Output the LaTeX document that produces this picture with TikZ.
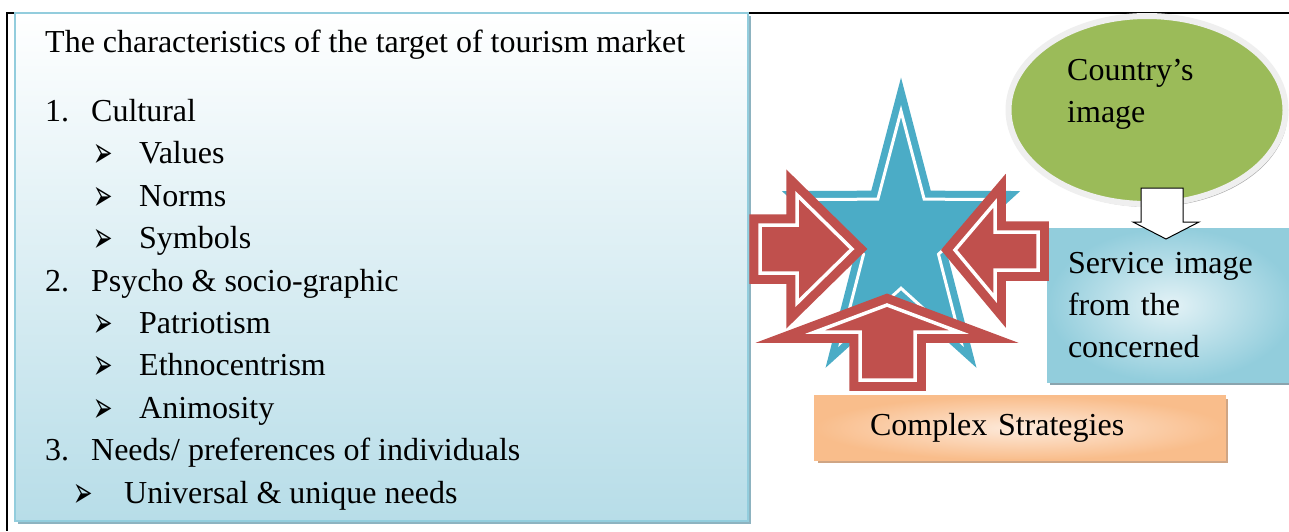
\documentclass[tikz,border=0pt]{standalone}
\usepackage{fontspec}
\setmainfont{Liberation Serif}
\newfontfamily\dingfont{DejaVu Sans}
\usetikzlibrary{calc, shapes.geometric, shadows}

\definecolor{panelblue}{HTML}{B7DDE8}
\definecolor{paneledge}{HTML}{93CDDD}
\definecolor{panelshadow}{HTML}{8DB3C0}
\definecolor{starblue}{HTML}{4BACC6}
\definecolor{arrowred}{HTML}{C0504D}
\definecolor{imggreen}{HTML}{9BBB59}
\definecolor{imgrim}{HTML}{EFEFEF}
\definecolor{imgshadow}{HTML}{A6A6A6}
\definecolor{svcblue}{HTML}{92CDDC}
\definecolor{svclight}{HTML}{E3F2F6}
\definecolor{svcshadow}{HTML}{8AA4AE}
\definecolor{stratorange}{HTML}{F9BD8B}
\definecolor{stratlight}{HTML}{FDEADB}
\definecolor{stratshadow}{HTML}{CFA584}

\newcommand{\arrowbul}{\raisebox{-4pt}{\scalebox{0.75}[1.4]{\dingfont\fontsize{31}{31}\selectfont ➢}}}
\newcommand{\listnum}[1]{\makebox[46pt][l]{#1}}
\newcommand{\listsub}{\hspace*{48pt}\makebox[46pt][l]{\arrowbul}}

\begin{document}
\begin{tikzpicture}[x=1pt, y=-1pt,
  every node/.style={inner sep=0pt, font=\fontsize{32}{42.4}\selectfont},
  panelbox/.style={draw=paneledge, line width=1.5pt, top color=white, bottom color=panelblue,
    drop shadow={shadow xshift=3pt, shadow yshift=-3pt, fill=panelshadow, opacity=1}},
  svcbox/.style={draw=svcblue, line width=1pt, inner color=svclight, outer color=svcblue,
    drop shadow={shadow xshift=3pt, shadow yshift=-3pt, fill=svcshadow, opacity=1}},
  stratbox/.style={draw=stratorange, line width=1.5pt, inner color=stratlight, outer color=stratorange,
    drop shadow={shadow xshift=3pt, shadow yshift=-3pt, fill=stratshadow, opacity=1}},
  starband/.style={draw=starblue, fill=starblue, line width=7pt, double=white, double distance=3pt, line join=miter},
  redarrow/.style={draw=arrowred, fill=arrowred, line width=9pt, double=white, double distance=3.5pt, line join=miter}
  ]
  \useasboundingbox (0,0) rectangle (1289,531);
  \fill[white] (0,0) rectangle (1289,531);
  \draw[line width=1.5pt] (1289,13) -- (7,13) -- (7,531);

  % target market panel
  \node[panelbox, minimum width=733pt, minimum height=508pt] (panel) at (381.5,267) {};
  \node[anchor=base west] (heading) at (45,52) {The characteristics of the target of tourism market};
  \node[anchor=north west, align=left] (charlist) at (45,99) {%
    \listnum{1.}Cultural\\
    \listsub Values\\
    \listsub Norms\\
    \listsub Symbols\\
    \listnum{2.}Psycho \& socio-graphic\\
    \listsub Patriotism\\
    \listsub Ethnocentrism\\
    \listsub Animosity\\
    \listnum{3.}Needs/ preferences of individuals\\
    \hspace*{28pt}\makebox[51pt][l]{\arrowbul}Universal \& unique needs};

  % star
  \begin{scope}[shift={(901,239)}, xscale=0.8]
    \node[star, star points=5, star point ratio=2.6, minimum size=256pt, starband, transform shape] (star) at (0,0) {};
  \end{scope}

  % country image and service image
  \node[ellipse, fill=imggreen, draw=imgrim, line width=6pt, minimum width=277pt, minimum height=188pt,
    drop shadow={shadow xshift=2pt, shadow yshift=-3pt, fill=imgshadow, opacity=1}] (cimg) at (1147,110) {};
  \node[anchor=north west, align=left] (cimgtext) at (1067,59) {Country’s\\image};
  \node[svcbox, minimum width=248pt, minimum height=154pt, text width=206pt, align=left] (svc) at (1171,305)
    {Service image\\from the\\concerned};

  \node[stratbox, minimum width=410pt, minimum height=64pt, text width=300pt, align=left] (strat) at (1020,428)
    {Complex Strategies};

  % arrows into the star
  \draw[redarrow] (760,225) -- (797,225) -- (797,195) -- (852,249) -- (797,303) -- (797,273) -- (760,273) -- cycle;
  \draw[redarrow] (1038,232) -- (995,232) -- (995,203) -- (955,250) -- (995,298) -- (995,270) -- (1038,270) -- cycle;
  \draw[redarrow] (860,380) -- (860,332) -- (815,332) -- (887,305) -- (959,332) -- (915,332) -- (915,380) -- cycle;

  % image arrow
  \draw[fill=white, line width=1pt] (1141,188) -- (1183,188) -- (1183,222) -- (1199,222) -- (1166,239)
    -- (1133,222) -- (1141,222) -- cycle;
\end{tikzpicture}
\end{document}
